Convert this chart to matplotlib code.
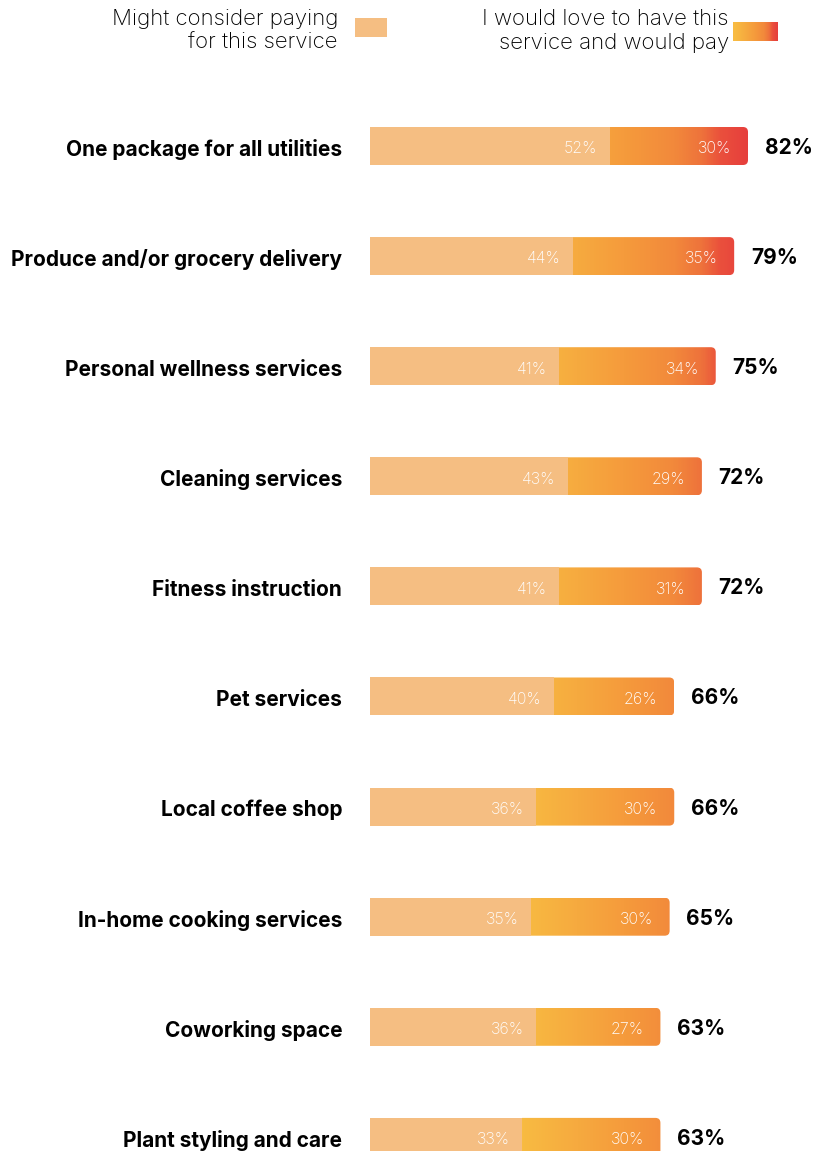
import numpy as np
import matplotlib.pyplot as plt
from matplotlib.colors import LinearSegmentedColormap, Normalize
from matplotlib.patches import FancyBboxPatch, Rectangle

# survey results, % of respondents
services = ['One package for all utilities', 'Produce and/or grocery delivery',
            'Personal wellness services', 'Cleaning services', 'Fitness instruction',
            'Pet services', 'Local coffee shop', 'In-home cooking services',
            'Coworking space', 'Plant styling and care']
might_pay = [52, 44, 41, 43, 41, 40, 36, 35, 36, 33]
love_pay = [30, 35, 34, 29, 31, 26, 30, 30, 27, 30]
totals = [82, 79, 75, 72, 72, 66, 66, 65, 63, 63]

legend_labels = ['Might consider paying\nfor this service',
                 'I would love to have this\nservice and would pay']

LIGHT = '#f5be82'
grad = LinearSegmentedColormap.from_list('warm', [
    (0.00, '#f9c043'), (0.33, '#f8bb42'), (0.45, '#f6aa3f'), (0.55, '#f59b3c'),
    (0.66, '#f2893b'), (0.72, '#ee723b'), (0.76, '#ea503c'), (0.82, '#e63e3d'),
    (1.00, '#e63e3d')])
gnorm = Normalize(0, 100)

plt.rcParams['font.family'] = ['Inter', 'DejaVu Sans']

W, H = 816, 1151
fig = plt.figure(figsize=(W / 100, H / 100), dpi=100)
px_per_unit = 378 / 82
ax_left = 370
ax_w = 100 * px_per_unit
ax = fig.add_axes([ax_left / W, 0, ax_w / W, 1])
row_px = 110.1
first_px = 146
ax.set_xlim(0, 100)
ax.set_ylim((H - first_px) / row_px, -first_px / row_px)
ax.axis('off')

bar_h = 38 / row_px
radius = 5 / px_per_unit
aspect = (1 / row_px) / (1 / px_per_unit)

for i, (name, a, b, t) in enumerate(zip(services, might_pay, love_pay, totals)):
    ax.barh(i, a, height=bar_h, color=LIGHT, zorder=2)
    # gradient segment with rounded right end
    clip = FancyBboxPatch((a - 5, i - bar_h / 2), b + 5, bar_h,
                          boxstyle=f'round,pad=0,rounding_size={radius}',
                          mutation_aspect=aspect, transform=ax.transData,
                          facecolor='none', edgecolor='none')
    ax.add_patch(clip)
    xs = np.linspace(a, a + b, 200)
    img = grad(gnorm(xs))[None, :, :]
    im = ax.imshow(img, extent=(a, a + b, i + bar_h / 2, i - bar_h / 2),
                   aspect='auto', interpolation='bilinear', zorder=3)
    im.set_clip_path(clip)
    ax.annotate(f'{a}%', (a, i), xytext=(-9, -1), textcoords='offset points',
                ha='right', va='center_baseline', color='white', fontsize=11.5,
                fontweight='light', zorder=5)
    ax.annotate(f'{b}%', (a + b, i), xytext=(-12, -1), textcoords='offset points',
                ha='right', va='center_baseline', color='white', fontsize=11.5,
                fontweight='light', zorder=5)
    ax.annotate(f'{t}%', (a + b, i), xytext=(12, 0), textcoords='offset points',
                ha='left', va='center_baseline', color='black', fontsize=15,
                fontweight='bold')
    ax.annotate(name, (0, i), xytext=(-20, -1), textcoords='offset points',
                ha='right', va='center_baseline', color='black', fontsize=15,
                fontweight='bold', annotation_clip=False)

# legend
fig.text(338 / W, 1 - 31 / H, legend_labels[0], ha='right', va='center',
         fontsize=16, linespacing=1.22, color='black', fontweight='light')
fig.patches.append(Rectangle((355 / W, 1 - 37 / H), 32 / W, 19 / H,
                             transform=fig.transFigure, facecolor=LIGHT,
                             edgecolor='none'))
fig.text(729 / W, 1 - 31 / H, legend_labels[1], ha='right', va='center',
         fontsize=16, linespacing=1.22, color='black', fontweight='light')
sw = fig.add_axes([733 / W, 1 - 41 / H, 45 / W, 19 / H])
sw.imshow(grad(np.linspace(0.3, 0.82, 100))[None, :, :], aspect='auto',
          extent=(0, 1, 0, 1))
sw.axis('off')

fig.savefig('out.png', dpi=100)
